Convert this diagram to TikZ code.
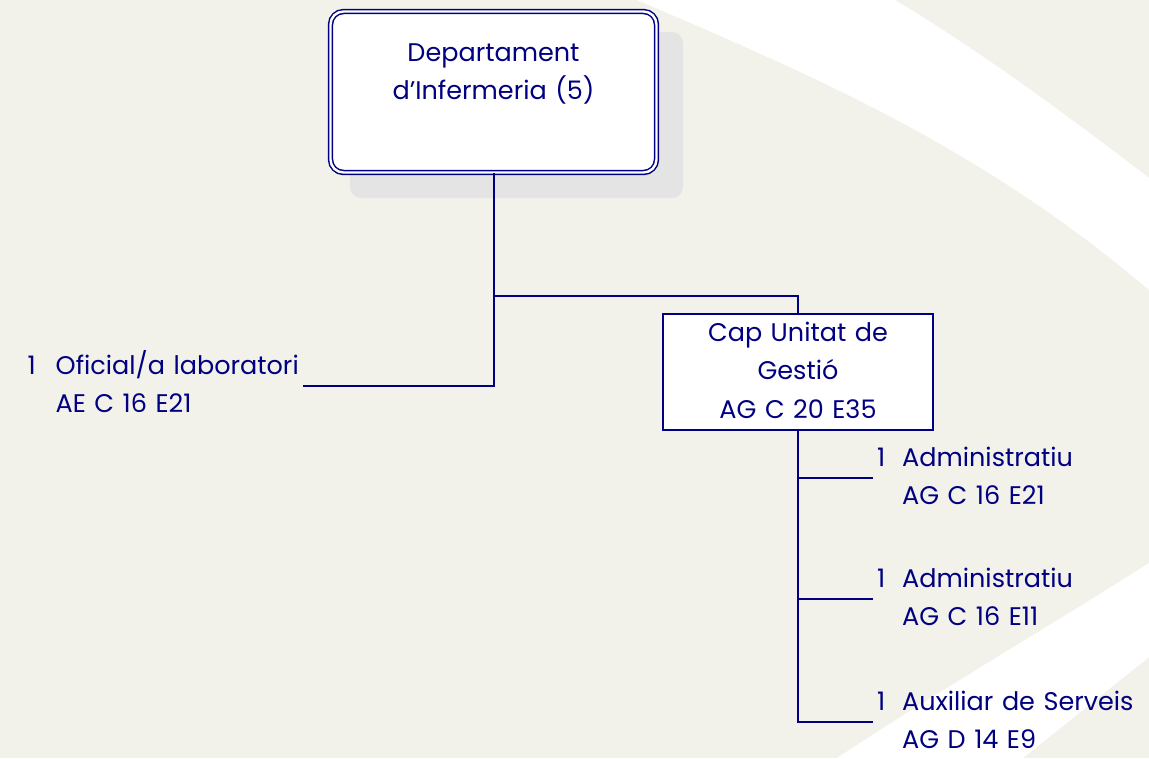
\documentclass[tikz,border=0pt]{standalone}
\usepackage{fontspec}
\setmainfont[WordSpace=1.25]{Poppins}
\usepackage{tikz,xcolor}
\usetikzlibrary{calc,positioning}

\definecolor{navy}{RGB}{0,0,128}
\definecolor{paper}{RGB}{242,242,235}
\definecolor{shadowgrey}{RGB}{228,228,228}
\newcommand{\orgfont}{\fontsize{25.5}{38.5}\selectfont}

\begin{document}
\begin{tikzpicture}[x=1pt, y=-1pt,
        link/.style={draw=navy, line width=2pt},
        headbox/.style={draw=navy, fill=white, line width=1.5pt, double, double distance=2.4pt,
            rounded corners=13pt, minimum width=326pt, minimum height=161pt, inner sep=0pt,
            text=navy, font=\orgfont},
        unitbox/.style={draw=navy, fill=white, line width=1.8pt, minimum width=270pt,
            minimum height=106pt, inner sep=0pt, text=navy, font=\orgfont},
        post/.style={inner sep=4pt, text=navy, font=\orgfont}]

        % background
        \useasboundingbox (0,0) rectangle (1149,758);
        \fill[paper] (0,0) rectangle (1149,758);
        \fill[white] (637,0) .. controls (807,73) and (979,145) .. (1149,290) -- (1149,178)
            .. controls (1064,113) and (980,51) .. (895,0) -- cycle;
        \fill[white] (1149,563) .. controls (1060,620) and (940,690) .. (837,758) -- (1023,758)
            -- (1149,657) -- cycle;
        \fill[shadowgrey, rounded corners=11pt] (350,32) rectangle (683,198);

        % boxes
        \node[headbox] (dept) at (493.5,92) {\begin{tabular}{@{}c@{}}Departament\\d’Infermeria (5)\\ \mbox{}\end{tabular}};
        \node[unitbox] (cap) at (798,372) {\begin{tabular}{@{}c@{}}Cap Unitat de\\Gestió\\AG C 20 E35\end{tabular}};

        % posts
        \node[post, anchor=east] (ofi) at (303,386) {\begin{tabular}{@{}p{28pt}@{}l@{}}1 & Oficial/a laboratori\\ & AE C 16 E21\end{tabular}};
        \node[post, anchor=west] (adm1) at (873,478) {\begin{tabular}{@{}p{25pt}@{}l@{}}1 & Administratiu\\ & AG C 16 E21\end{tabular}};
        \node[post, anchor=west] (adm2) at (873,599) {\begin{tabular}{@{}p{25pt}@{}l@{}}1 & Administratiu\\ & AG C 16 E11\end{tabular}};
        \node[post, anchor=west] (aux) at (873,722) {\begin{tabular}{@{}p{25pt}@{}l@{}}1 & Auxiliar de Serveis\\ & AG D 14 E9\end{tabular}};

        % lines
        \coordinate (fork) at (dept.south |- 0,296);
        \draw[link] (dept.south) |- (ofi.east);
        \draw[link] (fork) -| (cap.north);
        \draw[link] (cap.south) |- (aux.west);
        \foreach \p in {adm1,adm2}
            \draw[link] (cap.south |- \p.west) -- (\p.west);
\end{tikzpicture}
\end{document}
